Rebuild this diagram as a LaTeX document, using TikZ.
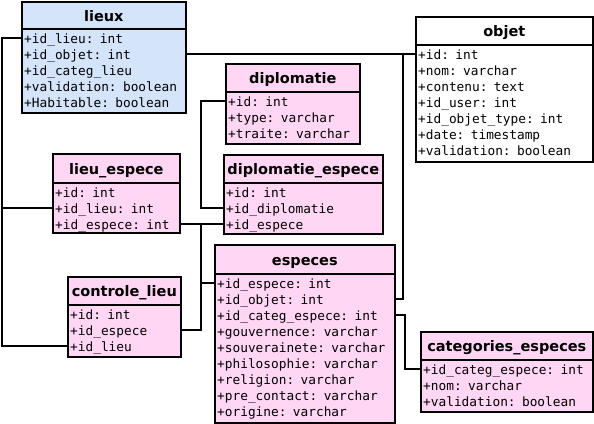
\documentclass[tikz,border=0pt]{standalone}
\usepackage{fontspec}
\setmainfont{DejaVu Sans}
\setmonofont{DejaVu Sans Mono}
\definecolor{bluefill}{RGB}{212,228,250}
\definecolor{pinkfill}{RGB}{255,214,244}
\tikzset{
 tbox/.style={draw=black, line width=1.6bp, inner sep=0pt},
 thead/.style={draw=black, line width=1.6bp, inner sep=0pt, text height=12bp, text depth=0pt, font=\fontsize{14.5bp}{16bp}\selectfont\bfseries},
 trow/.style={inner xsep=3bp, inner ysep=0pt, text height=11bp, text depth=0pt, align=left, font=\ttfamily\fontsize{12.8bp}{16bp}\selectfont},
 link/.style={line width=1.6bp, line join=miter}
}
\newcommand\umltab[9]{%
 \pgfmathsetlengthmacro\tw{(#4-#2-6)*1bp}%
 \node[tbox, fill=#7, minimum width={(#4-#2)*1bp}, minimum height={(#6-#3)*1bp}, anchor=north west] (#1) at (#2,#3) {};
 \node[thead, minimum width={(#4-#2)*1bp}, minimum height={(#5-#3)*1bp}, anchor=north west] (#1-h) at (#2,#3) {#8};
 \foreach \t [count=\i] in {#9} {
  \node[trow, text width=\tw, anchor=west] (#1-\i) at (#2,{#5+10+16*(\i-1)}) {\t};
 }
}
\begin{document}
\begin{tikzpicture}[x=1bp,y=-1bp]
\useasboundingbox (0,0) rectangle (594,423);
\umltab{lieux}{21}{1}{185}{28}{112}{bluefill}{lieux}{+id\_lieu: int,+id\_objet: int,+id\_categ\_lieu,+validation: boolean,+Habitable: boolean}
\umltab{dip}{225}{63}{359}{91}{143}{pinkfill}{diplomatie}{+id: int,+type: varchar,+traite: varchar}
\umltab{dipesp}{223}{154}{382}{182}{233}{pinkfill}{diplomatie\_espece}{+id: int,+id\_diplomatie,+id\_espece}
\umltab{objet}{415}{16}{592}{44}{161}{white}{objet}{+id: int,+nom: varchar,+contenu: text,+id\_user: int,+id\_objet\_type: int,+date: timestamp,+validation: boolean}
\umltab{lieuesp}{52}{153}{179}{182}{232}{pinkfill}{lieu\_espece}{+id: int,+id\_lieu: int,+id\_espece: int}
\umltab{ctrl}{67}{276}{180}{304}{356}{pinkfill}{controle\_lieu}{+id: int,+id\_espece,+id\_lieu}
\umltab{esp}{214}{244}{394}{273}{422}{pinkfill}{especes}{+id\_espece: int,+id\_objet: int,+id\_categ\_espece: int,+gouvernence: varchar,+souverainete: varchar,+philosophie: varchar,+religion: varchar,+pre\_contact: varchar,+origine: varchar}
\umltab{cat}{420}{331}{592}{359}{411}{pinkfill}{categories\_especes}{+id\_categ\_espece: int,+nom: varchar,+validation: boolean}
\coordinate (bL) at (2,0);
\coordinate (bO) at (403,0);
\coordinate (bC) at (405,0);
\coordinate (bD) at (201,0);
\draw[link] (lieux-1.west) -- (lieux-1.west -| bL) |- (ctrl-3.west);
\draw[link] (lieuesp-2.west -| bL) -- (lieuesp-2.west);
\draw[link] (lieux-2.east) -- (objet-1.west);
\draw[link] (objet-1.west -| bO) |- (esp-2.east);
\draw[link] (dip-1.west) -- (dip-1.west -| bD) |- (dipesp-2.west);
\draw[link] (lieuesp-3.east) -- (dipesp-3.west);
\draw[link] (lieuesp-3.east -| bD) |- (ctrl-2.east);
\draw[link] (bD |- esp-1.west) -- (esp-1.west);
\draw[link] (esp-3.east) -- (esp-3.east -| bC) |- (cat-1.west);
\end{tikzpicture}
\end{document}
